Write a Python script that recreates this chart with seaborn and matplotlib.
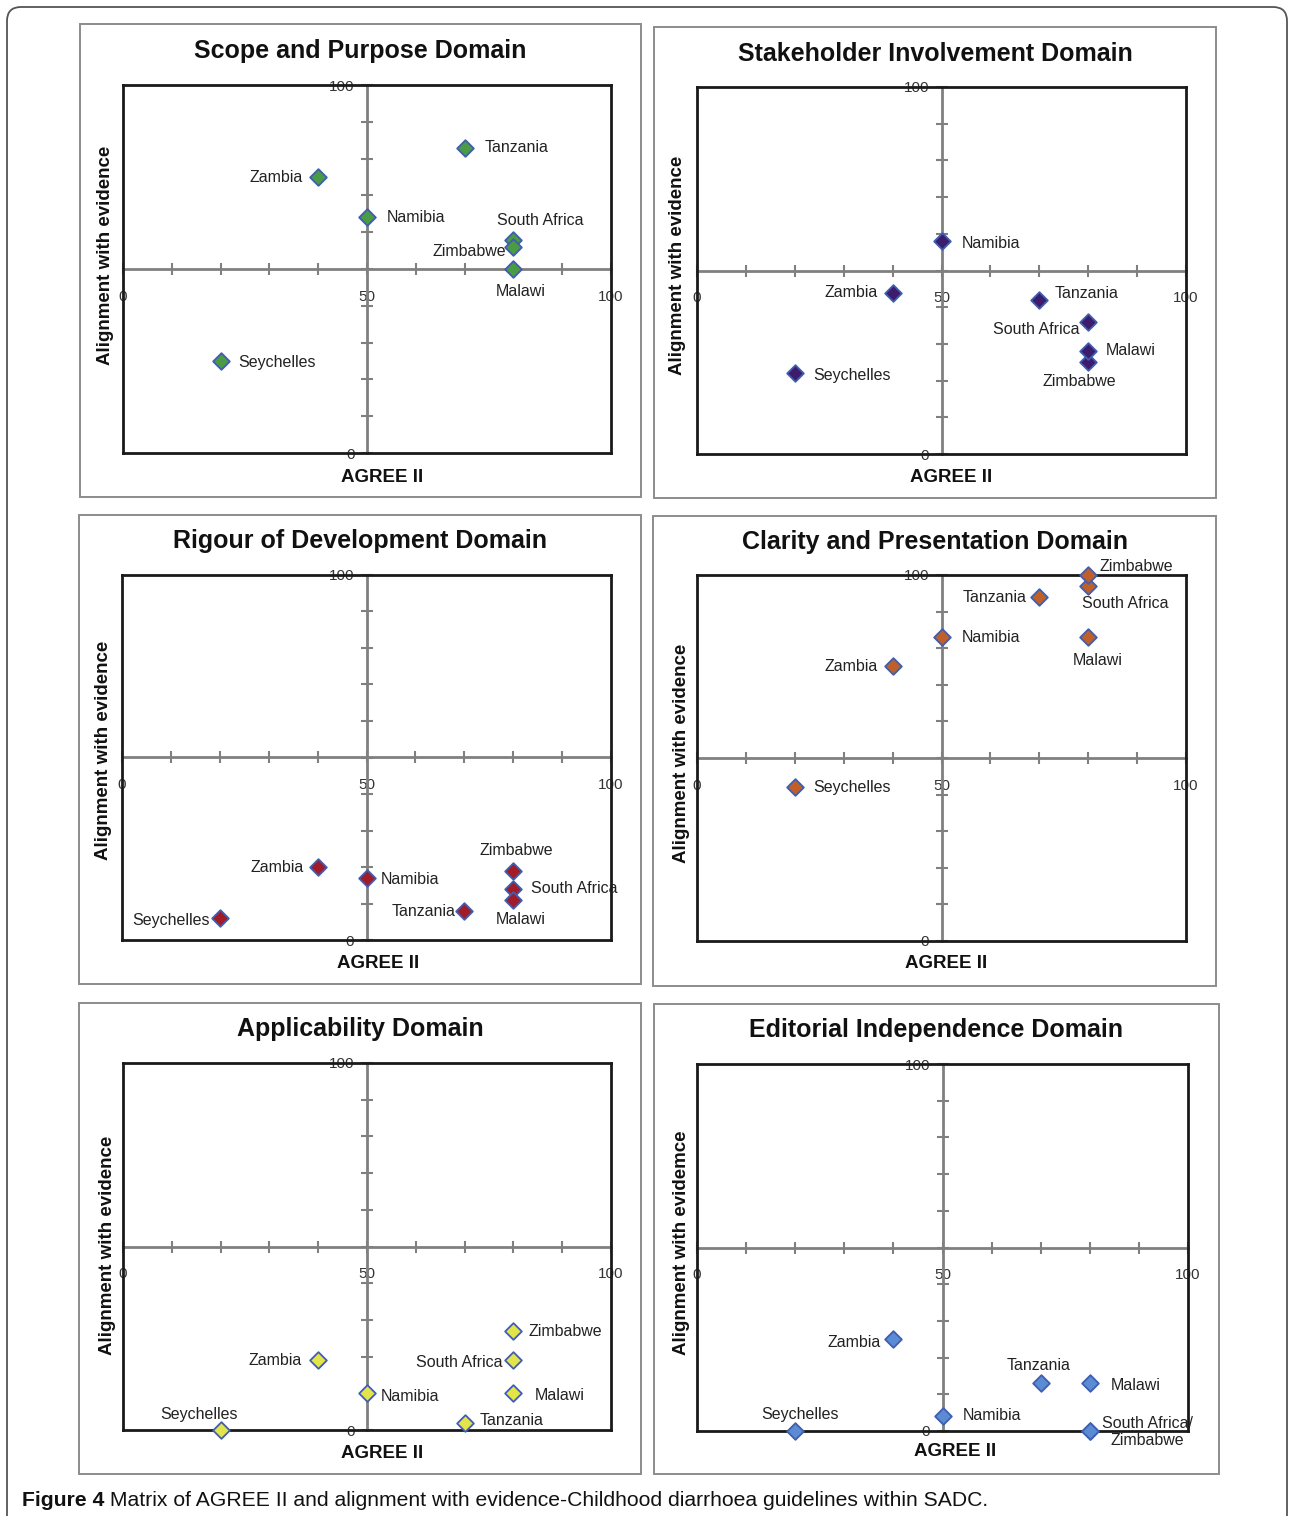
import pandas as pd
import seaborn as sns
import matplotlib.pyplot as plt
from matplotlib.patches import Rectangle, FancyBboxPatch
from matplotlib.transforms import IdentityTransform

# data (AGREE II score is the same for every domain)
countries = ['Zambia', 'Namibia', 'Tanzania', 'South Africa', 'Zimbabwe', 'Malawi', 'Seychelles']
agree_ii = [40, 50, 70, 80, 80, 80, 20]

scope_purpose = [75, 64, 83, 58, 56, 50, 25]
stakeholder = [44, 58, 42, 36, 25, 28, 22]
rigour = [20, 17, 8, 14, 19, 11, 6]
clarity = [75, 83, 94, 97, 100, 83, 42]
applicability = [19, 10, 2, 19, 27, 10, 0]
editorial = [25, 4, 13, 0, 0, 13, 0]

titles = ['Scope and Purpose Domain', 'Stakeholder Involvement Domain',
          'Rigour of Development Domain', 'Clarity and Presentation Domain',
          'Applicability Domain', 'Editorial Independence Domain']
y_titles = ['Alignment with evidence'] * 5 + ['Alignment with evidemce']
x_title = 'AGREE II'
domains = [scope_purpose, stakeholder, rigour, clarity, applicability, editorial]
caption_bold = 'Figure 4'
caption_rest = ' Matrix of AGREE II and alignment with evidence-Childhood diarrhoea guidelines within SADC.'

# styling / layout (pixels)
colors = ['#4b9a45', '#3d1c6e', '#a01c2a', '#bf5f2a', '#e3e34c', '#5b8bd5']
edge = '#3f5fae'
W, H = 1289, 1516
axes_px = [(123, 85, 611, 453), (697, 87, 1186, 454),
           (122, 575, 611, 940), (697, 575, 1186, 941),
           (123, 1063, 611, 1430), (697, 1064, 1188, 1431)]
boxes_px = [(80, 24, 641, 497), (654, 27, 1216, 498),
            (79, 515, 641, 984), (653, 516, 1216, 986),
            (79, 1003, 641, 1474), (654, 1004, 1219, 1474)]
title_px = [(360, 51), (935, 54), (360, 541), (935, 542), (360, 1029), (936, 1030)]
ylab_px = [(106, 255), (677, 265), (104, 750), (681, 753), (108, 1245), (682, 1243)]
xlab_px = [(382, 478), (951, 477), (378, 963), (946, 964), (382, 1454), (955, 1452)]

# label offsets: (dx, dy, ha) in pixels, dy positive = downwards
offsets = [
    {'Tanzania': (20, 0, 'left'), 'Zambia': (-15, 0, 'right'), 'Namibia': (20, 0, 'left'),
     'South Africa': (-16, -19, 'left'), 'Zimbabwe': (-7, 5, 'right'),
     'Malawi': (7, 22, 'center'), 'Seychelles': (18, 1, 'left')},
    {'Namibia': (20, 2, 'left'), 'Zambia': (-15, 0, 'right'), 'Tanzania': (15, -6, 'left'),
     'South Africa': (-9, 8, 'right'), 'Malawi': (18, -1, 'left'),
     'Zimbabwe': (-9, 19, 'center'), 'Seychelles': (18, 2, 'left')},
    {'Zambia': (-14, 0, 'right'), 'Namibia': (14, 2, 'left'), 'Zimbabwe': (3, -20, 'center'),
     'South Africa': (18, 0, 'left'), 'Malawi': (7, 20, 'center'),
     'Tanzania': (-9, 1, 'right'), 'Seychelles': (-10, 2, 'right')},
    {'Zimbabwe': (11, -8, 'left'), 'South Africa': (-6, 18, 'left'), 'Tanzania': (-13, 1, 'right'),
     'Namibia': (20, 0, 'left'), 'Malawi': (9, 23, 'center'),
     'Zambia': (-15, 0, 'right'), 'Seychelles': (18, 0, 'left')},
    {'Zimbabwe': (15, 1, 'left'), 'Zambia': (-16, 0, 'right'), 'South Africa': (-11, 2, 'right'),
     'Namibia': (14, 3, 'left'), 'Malawi': (21, 2, 'left'),
     'Tanzania': (15, -2, 'left'), 'Seychelles': (-22, -16, 'center')},
    {'Zambia': (-13, 3, 'right'), 'Tanzania': (-2, -18, 'center'), 'Malawi': (21, 2, 'left'),
     'Namibia': (20, -1, 'left'), 'Seychelles': (5, -17, 'center'),
     'South Africa': (58, 1, 'center'), 'Zimbabwe': (0, 0, 'center')},
]
label_override = [{}, {}, {}, {}, {}, {'South Africa': 'South Africa/\nZimbabwe', 'Zimbabwe': ''}]

sns.set_theme(style='white')
plt.rcParams['font.family'] = ['Liberation Sans', 'DejaVu Sans']

fig = plt.figure(figsize=(W / 100, H / 100), dpi=100)

# outer rounded frame of the figure
fig.patches.append(FancyBboxPatch((7, -30), W - 9, H - 7 + 30,
                                  boxstyle='round,pad=0,rounding_size=14',
                                  transform=IdentityTransform(), fill=False,
                                  edgecolor='#555555', linewidth=1.3))

for i, values in enumerate(domains):
    x0, y0, x1, y1 = axes_px[i]
    ax = fig.add_axes([x0 / W, 1 - y1 / H, (x1 - x0) / W, (y1 - y0) / H])

    # panel frame
    bx0, by0, bx1, by1 = boxes_px[i]
    fig.patches.append(Rectangle((bx0 / W, 1 - by1 / H), (bx1 - bx0) / W, (by1 - by0) / H,
                                 transform=fig.transFigure, fill=False,
                                 edgecolor='#8c8c8c', linewidth=1.4))

    df = pd.DataFrame({'country': countries, 'agree': agree_ii, 'alignment': values})
    sns.scatterplot(data=df, x='agree', y='alignment', ax=ax, marker='D', s=72,
                    color=colors[i], edgecolor=edge, linewidth=1.3, legend=False, zorder=5)
    ax.collections[-1].set_clip_on(False)

    ax.set_xlim(0, 100)
    ax.set_ylim(0, 100)
    ax.set_xticks([])
    ax.set_yticks([])
    ax.set_xlabel('')
    ax.set_ylabel('')
    for sp in ax.spines.values():
        sp.set_color('#1a1a1a')
        sp.set_linewidth(2)
        sp.set_zorder(3)

    # crosshair axes through 50/50
    sx = ax.secondary_xaxis(0.5)
    sx.set_alignment('bottom')
    sx.set_xticks(range(0, 101, 10))
    sx.set_xticklabels(['0', '', '', '', '', '50', '', '', '', '', '100'],
                       fontsize=11, color='#333333')
    sx.tick_params(direction='inout', length=8, width=1.5, color='#808080', pad=11)
    sx.spines['bottom'].set_color('#808080')
    sx.spines['bottom'].set_linewidth(2)

    sy = ax.secondary_yaxis(0.5)
    sy.set_alignment('left')
    sy.set_yticks(range(0, 101, 10))
    sy.set_yticklabels(['0', '', '', '', '', '', '', '', '', '', '100'],
                       fontsize=11, color='#333333')
    sy.tick_params(direction='inout', length=8, width=1.5, color='#808080', pad=5)
    sy.spines['left'].set_color('#808080')
    sy.spines['left'].set_linewidth(2)

    for c, xv, yv in zip(countries, agree_ii, values):
        dx, dy, ha = offsets[i][c]
        txt = label_override[i].get(c, c)
        if not txt:
            continue
        ax.annotate(txt, (xv, yv), xytext=(dx, -dy), textcoords='offset pixels',
                    ha=ha, va='center', fontsize=11.5, color='#222222',
                    multialignment='center', annotation_clip=False, zorder=6)

    tx, ty = title_px[i]
    fig.text(tx / W, 1 - ty / H, titles[i], ha='center', va='center',
             fontsize=18, fontweight='bold', color='#111111')
    lx, ly = ylab_px[i]
    fig.text(lx / W, 1 - ly / H, y_titles[i], ha='center', va='center', rotation=90,
             fontsize=13.5, fontweight='bold', color='#111111')
    gx, gy = xlab_px[i]
    fig.text(gx / W, 1 - gy / H, x_title, ha='center', va='center',
             fontsize=13.5, fontweight='bold', color='#111111')

# caption
cap = fig.text(22 / W, 1 - 1500 / H, caption_bold, ha='left', va='center',
               fontsize=15.2, fontweight='bold', color='#111111')
fig.canvas.draw()
bb = cap.get_window_extent()
fig.text(bb.x1 / W, 1 - 1500 / H, caption_rest, ha='left', va='center',
         fontsize=15.2, color='#111111')

fig.savefig('out.png', dpi=100)
